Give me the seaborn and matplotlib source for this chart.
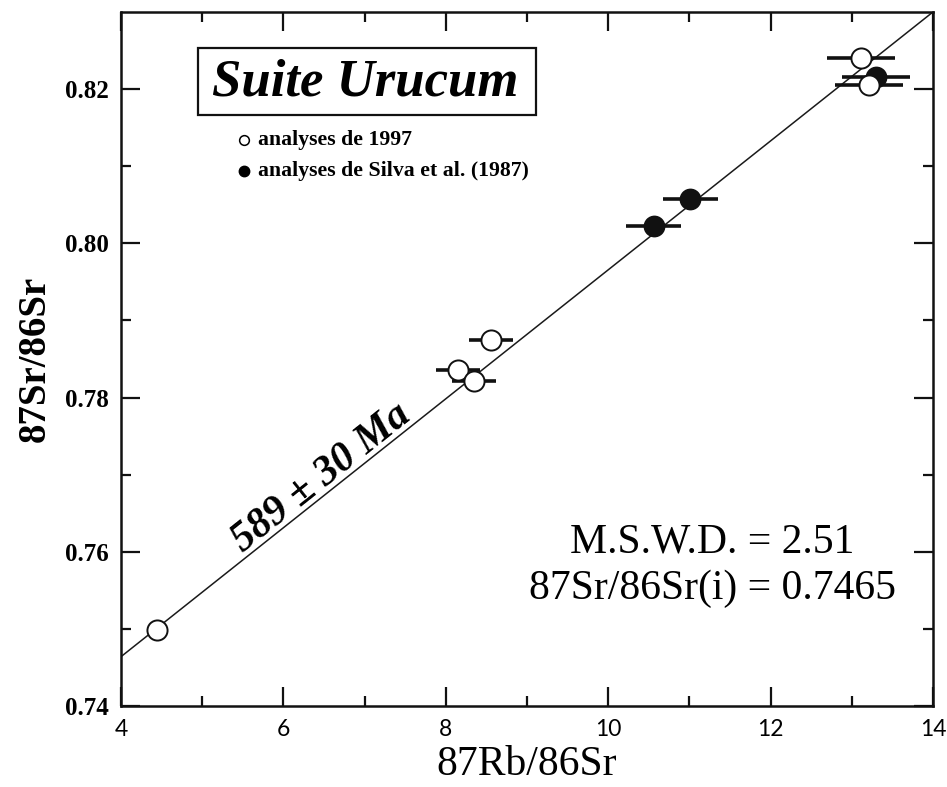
import numpy as np
import pandas as pd
import matplotlib
matplotlib.use("Agg")
import matplotlib.pyplot as plt
from matplotlib.patches import Rectangle
import seaborn as sns

# Data
open_rb = [4.44, 8.15, 8.35, 8.56, 13.11, 13.21]
open_sr = [0.7499, 0.7836, 0.7821, 0.7874, 0.8240, 0.8205]
open_err = [0.08, 0.27, 0.27, 0.27, 0.42, 0.42]

filled_rb = [10.56, 11.01, 13.30]
filled_sr = [0.8022, 0.8057, 0.8216]
filled_err = [0.34, 0.34, 0.42]

line_x = [4.0, 14.0]
line_y = [0.7464, 0.8300]

x_ticks = [4, 6, 8, 10, 12, 14]
y_ticks = [0.74, 0.76, 0.78, 0.80, 0.82]

sns.set_style("ticks")
plt.rcParams['font.family'] = ['Liberation Serif', 'DejaVu Serif']
for k in ["text.color", "axes.labelcolor", "xtick.color", "ytick.color", "axes.edgecolor"]:
    plt.rcParams[k] = "black"

fig = plt.figure(figsize=(9.47, 7.87), dpi=100)
ax = fig.add_axes([0.1278, 0.1029, 0.8574, 0.8819])

df_open = pd.DataFrame({"rb": open_rb, "sr": open_sr})
df_fill = pd.DataFrame({"rb": filled_rb, "sr": filled_sr})

# isochron
ax.plot(line_x, line_y, color="#1a1a1a", lw=1.1, zorder=1)

# error bars
ax.errorbar(open_rb, open_sr, xerr=open_err, fmt="none", ecolor="#111111",
            elinewidth=2.6, capsize=0, zorder=2)
ax.errorbar(filled_rb, filled_sr, xerr=filled_err, fmt="none", ecolor="#111111",
            elinewidth=2.6, capsize=0, zorder=2)

sns.scatterplot(data=df_fill, x="rb", y="sr", ax=ax, s=210, color="#111111",
                edgecolor="#111111", linewidth=1.2, zorder=3, legend=False)
sns.scatterplot(data=df_open, x="rb", y="sr", ax=ax, s=210, color="white",
                edgecolor="#111111", linewidth=1.4, zorder=4, legend=False)

ax.set_xlim(4, 14)
ax.set_ylim(0.74, 0.830)
ax.set_xticks(x_ticks)
ax.set_yticks(y_ticks)
ax.set_xticklabels([str(v) for v in x_ticks], family="Lato", fontsize=16.5)
ax.set_yticklabels([f"{v:.2f}" for v in y_ticks], fontweight="bold", fontsize=18)
ax.set_xticks([5, 7, 9, 11, 13], minor=True)
ax.set_yticks([0.75, 0.77, 0.79, 0.81], minor=True)

ax.tick_params(which="both", direction="in", top=True, right=True, width=1.6,
               color="#111111")
ax.tick_params(which="major", length=14)
ax.tick_params(which="minor", length=7)
ax.tick_params(axis="x", which="major", pad=9)
ax.tick_params(axis="y", which="major", pad=9)

for sp in ax.spines.values():
    sp.set_linewidth(1.8)
    sp.set_color("#111111")

ax.set_xlabel("87Rb/86Sr", fontsize=30, labelpad=4)
ax.set_ylabel("87Sr/86Sr", fontsize=28, fontweight="bold", labelpad=8)

# title box
ax.add_patch(Rectangle((0.0948, 0.8516), 0.4162, 0.0964, transform=ax.transAxes,
                       fc="white", ec="#111111", lw=1.6, zorder=5))
ax.text(0.3005, 0.880, "Suite Urucum", transform=ax.transAxes, fontsize=38,
        fontweight="bold", fontstyle="italic", ha="center", va="baseline", zorder=6)

# legend keys and text
ax.plot([0.1515], [0.8156], marker="o", ms=7, mfc="white", mec="black", mew=1.1,
        transform=ax.transAxes, clip_on=False)
ax.plot([0.1515], [0.7715], marker="o", ms=7.5, mfc="black", mec="black",
        transform=ax.transAxes, clip_on=False)
ax.text(0.1687, 0.8156, "analyses de 1997", transform=ax.transAxes,
        fontsize=15.7, fontweight="bold", ha="left", va="center")
ax.text(0.1687, 0.7715, "analyses de Silva et al. (1987)", transform=ax.transAxes,
        fontsize=15.7, fontweight="bold", ha="left", va="center")

# isochron label, parallel to the line
fig.canvas.draw()
p0 = ax.transData.transform((line_x[0], line_y[0]))
p1 = ax.transData.transform((line_x[1], line_y[1]))
ang = np.degrees(np.arctan2(p1[1] - p0[1], p1[0] - p0[0]))
ax.text(6.55, 0.7686, "589 \u00B1 30 Ma", fontsize=30, fontweight="bold",
        fontstyle="italic", rotation=ang, rotation_mode="anchor",
        ha="center", va="baseline")

ax.text(0.728, 0.2205, "M.S.W.D. = 2.51", transform=ax.transAxes, fontsize=30,
        ha="center", va="baseline")
ax.text(0.729, 0.1542, "87Sr/86Sr(i) = 0.7465", transform=ax.transAxes, fontsize=30,
        ha="center", va="baseline")

fig.savefig("out.png", dpi=100)
